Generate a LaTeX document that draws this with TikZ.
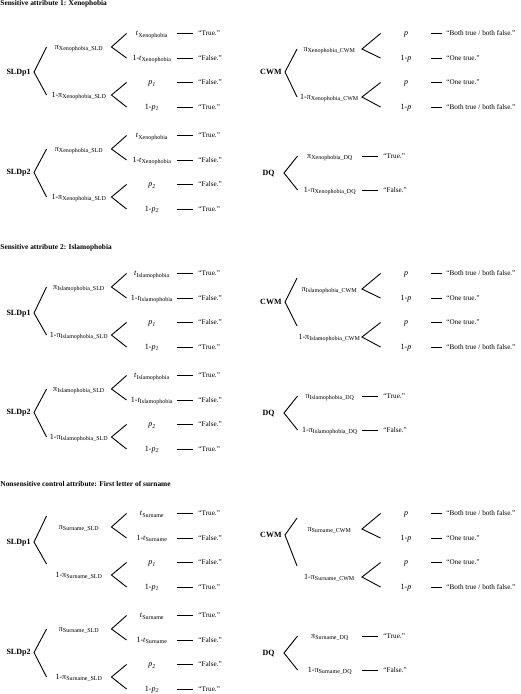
\documentclass[tikz,border=0pt]{standalone}
\usepackage{fontspec}
\setmainfont{Liberation Serif}
\begin{document}
\begin{tikzpicture}[x=1pt,y=-1pt,font=\footnotesize,line width=0.9pt,
  txt/.style={inner sep=0pt,text height=1.5ex,text depth=.5ex},
  ttl/.style={anchor=west,inner sep=0pt,font=\fontsize{7.4}{9}\selectfont\bfseries},
  rt/.style={txt,anchor=east,inner xsep=3pt,font=\footnotesize\bfseries},
  md/.style={txt,minimum width=64pt},
  lf/.style={txt,minimum width=50pt},
  res/.style={txt,anchor=west,inner xsep=5pt,font=\fontsize{7.2}{9}\selectfont}]
  \useasboundingbox (0,0) rectangle (520,694);
  \foreach \att/\dy/\ty/\ya/\sha/\yc/\shc/\tit in {Xenophobia/0/4/72/0/72/0/Sensitive attribute 1: Xenophobia,
    Islamophobia/240/8/73/0/62/11/Sensitive attribute 2: Islamophobia,
    Surname/480/4/62/11/55/11/Nonsensitive control attribute: First letter of surname}{
  \begin{scope}[shift={(0,\dy)},name prefix=\att-]
  \node[ttl] (ti) at (0,\ty) {\tit};
  \foreach \pk/\yk/\rk/\sk in {1/0/\ya/\sha,2/102/70.5/0}{
    \begin{scope}[shift={(0,\yk)},name prefix=\att-\pk-]
    \node[rt] (r) at (34,\rk) {SLDp\pk};
    \node[md] (a) at (79,47) {π\textsubscript{\att\_SLD}};
    \node[md] (b) at (79,95) {1-π\textsubscript{\att\_SLD}};
    \node[lf] (aa) at (152,33.5) {\textit{t}\textsubscript{\att}};
    \node[lf] (ab) at (152,58) {1-\textit{t}\textsubscript{\att}};
    \node[lf] (ba) at (152,82.5) {\textit{p\textsubscript{\pk}}};
    \node[lf] (bb) at (152,107) {1-\textit{p\textsubscript{\pk}}};
    \draw ([yshift=\sk pt]a.west) -- (r.east) -- ([yshift=\sk pt]b.west);
    \draw (aa.west) -- (a.east) -- (ab.west);
    \draw (ba.west) -- (b.east) -- (bb.west);
    \foreach \leaf/\yy/\ans in {aa/33.5/True.,ab/58/False.,ba/82.5/False.,bb/107/True.}{
      \node[res] (\leaf-o) at (193,\yy) {“\ans”};
      \draw (\leaf.east) -- (\leaf-o.west);}
    \end{scope}}
  \node[rt] (c) at (285,\yc) {CWM};
  \node[md] (ca) at (329.5,49) {π\textsubscript{\att\_CWM}};
  \node[md] (cb) at (329.5,97) {1-π\textsubscript{\att\_CWM}};
  \node[lf] (caa) at (406,33.5) {\textit{p}};
  \node[lf] (cab) at (406,58) {1-\textit{p}};
  \node[lf] (cba) at (406,82.5) {\textit{p}};
  \node[lf] (cbb) at (406,107) {1-\textit{p}};
  \draw ([yshift=\shc pt]ca.west) -- (c.east) -- ([yshift=\shc pt]cb.west);
  \draw (caa.west) -- (ca.east) -- (cab.west);
  \draw (cba.west) -- (cb.east) -- (cbb.west);
  \foreach \leaf/\yy/\ans in {caa/33.5/{Both true / both false.},cab/58/One true.,cba/82.5/One true.,cbb/107/{Both true / both false.}}{
    \node[res,inner xsep=4pt] (\leaf-o) at (442,\yy) {“\ans”};
    \draw (\leaf.east) -- (\leaf-o.west);}
  \node[rt,inner xsep=9pt] (d) at (284,173) {DQ};
  \node[md] (da) at (330,156) {π\textsubscript{\att\_DQ}};
  \node[md] (db) at (330,190) {1-π\textsubscript{\att\_DQ}};
  \draw (da.west) -- (d.east) -- (db.west);
  \node[res] (da-o) at (378,156) {“True.”};
  \node[res] (db-o) at (378,190) {“False.”};
  \draw (da.east) -- (da-o.west);
  \draw (db.east) -- (db-o.west);
  \end{scope}}
\end{tikzpicture}
\end{document}
